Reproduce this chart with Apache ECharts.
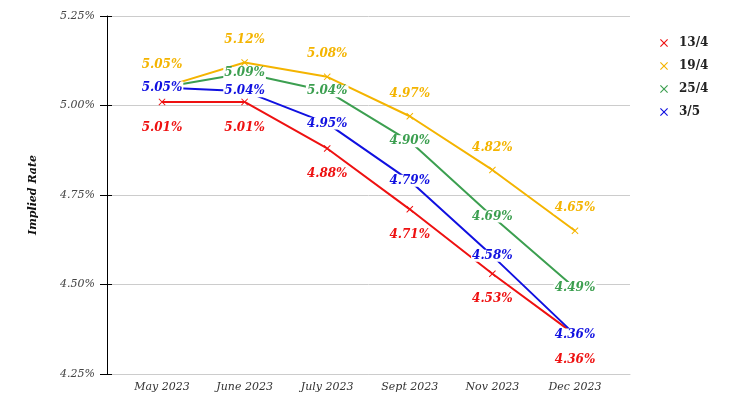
<!DOCTYPE html>
<html><head><meta charset="utf-8">
<script src="https://cdn.jsdelivr.net/npm/echarts@6/dist/echarts.min.js"></script>
<style>html,body{margin:0;padding:0;background:#fff}#c{width:733px;height:412px}</style>
</head><body><div id="c"></div>
<script>
const categories = ['May 2023','June 2023','July 2023','Sept 2023','Nov 2023','Dec 2023'];
const seriesNames = ['13/4','19/4','25/4','3/5'];
const s13_4 = [5.01, 5.01, 4.88, 4.71, 4.53, 4.36];
const s19_4 = [5.05, 5.12, 5.08, 4.97, 4.82, 4.65];
const s25_4 = [5.05, 5.09, 5.04, 4.90, 4.69, 4.49];
const s3_5  = [5.05, 5.04, 4.95, 4.79, 4.58, 4.36];
const yTicks = [4.25, 4.50, 4.75, 5.00, 5.25];

const colors = ['#ee1111', '#f4b400', '#3c9f50', '#1010e0'];
const FONT = '"DejaVu Serif", serif';
const X = 'path://M1,0L5,4L9,0L10,1L6,5L10,9L9,10L5,6L1,10L0,9L4,5L0,1Z';

function pairs(arr){ return arr.map((v,i)=>[i,v]); }
function mk(name, data, color, labelCfg, hideFirst){
  return {
    name, type:'line', data: pairs(data), color,
    symbol: X, symbolSize: 7, showAllSymbol: true,
    lineStyle:{width:2, color},
    itemStyle:{color},
    label: Object.assign({
      show:true, color, fontFamily: FONT, fontWeight:'bold', fontStyle:'italic', fontSize:12,
      backgroundColor:'#fff', padding:[0,1],
      formatter: p => (hideFirst && p.dataIndex===0) ? '' : p.value[1].toFixed(2)+'%'
    }, labelCfg),
    emphasis:{disabled:true}, animation:false
  };
}

const chart = echarts.init(document.getElementById('c'));
chart.setOption({
  animation:false,
  grid:{left:107, right:103, top:16, bottom:38},
  legend:{
    orient:'vertical', left:655, top:31, itemGap:9, itemWidth:8, itemHeight:8,
    icon: X, data: seriesNames,
    textStyle:{fontFamily:FONT, fontWeight:'bold', fontSize:12, color:'#222', lineHeight:14, padding:[0,0,0,6]}
  },
  xAxis:{
    type:'value', min:-0.666, max:5.666,
    axisLine:{show:true, onZero:false, lineStyle:{color:'#ccc'}},
    axisTick:{show:false}, splitLine:{show:false},
    axisLabel:{customValues:[0,1,2,3,4,5], formatter: v => categories[Math.round(v)],
      fontFamily:FONT, fontStyle:'italic', fontSize:11, color:'#333', margin:8}
  },
  yAxis:[{
    type:'value', min:yTicks[0], max:yTicks[yTicks.length-1], interval:0.25,
    name:'Implied Rate', nameLocation:'middle', nameGap:68, nameRotate:90,
    nameTextStyle:{fontFamily:FONT, fontWeight:'bold', fontStyle:'italic', fontSize:11, color:'#111'},
    axisLine:{show:true, onZero:false, lineStyle:{color:'#000', width:1}},
    axisTick:{show:true, length:7, lineStyle:{color:'#000'}},
    splitLine:{show:true, lineStyle:{color:'#ccc'}},
    axisLabel:{formatter: v => v.toFixed(2)+'%', fontFamily:FONT, fontStyle:'italic', fontSize:11, color:'#444', margin:12}
  },{
    type:'value', min:yTicks[0], max:yTicks[yTicks.length-1], interval:0.25, position:'left',
    axisLine:{show:false, onZero:false}, axisTick:{show:true, inside:true, length:5, lineStyle:{color:'#000'}},
    splitLine:{show:false}, axisLabel:{show:false}
  }],
  series:[
    mk('13/4', s13_4, colors[0], {position:'bottom', distance:16}),
    mk('19/4', s19_4, colors[1], {position:'top', distance:13}),
    mk('25/4', s25_4, colors[2], {position:'inside'}, true),
    mk('3/5',  s3_5,  colors[3], {position:'inside'})
  ]
});
</script></body></html>
